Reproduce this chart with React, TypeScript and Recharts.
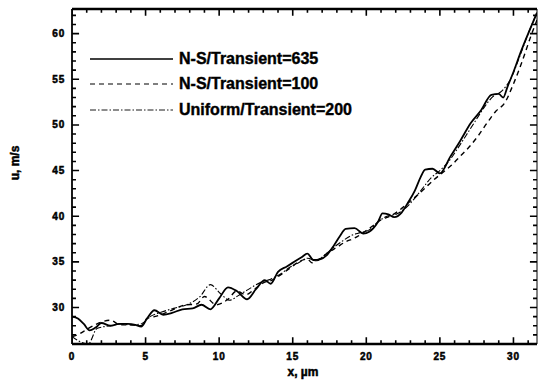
import { LineChart, Line, XAxis, YAxis, Legend } from 'recharts';

// x in µm, u in m/s for the three runs
const nsX635 = [0, 0.4, 0.8, 1.2, 1.6, 2.0, 2.6, 3.2, 3.8, 4.3, 4.7, 5.1, 5.6, 6.2, 6.8, 7.5, 8.2, 8.8, 9.4, 10.0, 10.6, 11.2, 11.9, 12.5, 13.1, 13.5, 14.0, 14.6, 15.1, 15.6, 16.0, 16.4, 16.9, 17.3, 17.8, 18.2, 18.6, 19.2, 19.8, 20.2, 20.8, 21.1, 21.5, 21.9, 22.4, 22.8, 23.3, 23.7, 24.0, 24.5, 25.0, 25.7, 26.4, 27.1, 27.8, 28.5, 29.0, 29.3, 29.6, 30.0, 30.5, 31.0, 31.6];
const nsU635 = [29.0, 28.8, 28.2, 27.5, 27.8, 28.3, 28.0, 28.2, 28.2, 28.1, 27.9, 28.8, 29.7, 29.2, 29.4, 29.8, 29.9, 30.3, 29.8, 31.0, 32.2, 31.8, 30.9, 32.0, 33.0, 32.6, 33.9, 34.5, 35.0, 35.5, 35.9, 35.2, 35.3, 35.7, 36.8, 37.8, 38.6, 38.7, 38.1, 38.3, 39.4, 40.3, 40.2, 39.9, 40.4, 41.4, 42.8, 44.3, 45.1, 45.2, 44.7, 46.5, 48.3, 50.2, 51.6, 53.3, 53.4, 53.0, 54.2, 55.8, 58.0, 60.0, 62.3];

const nsX100 = [0, 0.5, 1.0, 1.7, 2.6, 3.3, 4.0, 4.7, 5.1, 5.6, 6.2, 6.9, 7.6, 8.5, 9.0, 9.8, 10.6, 11.2, 11.8, 12.4, 13.0, 13.6, 14.2, 14.8, 15.4, 16.0, 16.3, 16.8, 17.4, 18.0, 18.6, 19.2, 19.8, 20.4, 21.0, 21.6, 22.2, 22.8, 23.4, 24.0, 24.6, 25.2, 25.8, 26.4, 27.0, 27.6, 28.2, 28.8, 29.4, 30.0, 30.6, 31.2, 31.6];
const nsU100 = [26.8, 27.1, 27.6, 28.2, 28.6, 28.1, 28.1, 28.0, 28.8, 29.0, 29.3, 29.8, 30.25, 30.4, 31.2, 30.3, 30.9, 31.8, 31.4, 32.0, 32.7, 33.0, 33.6, 34.3, 35.0, 35.3, 34.9, 35.3, 36.0, 36.6, 37.2, 37.6, 38.2, 38.9, 39.6, 40.0, 40.6, 41.4, 42.2, 43.1, 44.0, 44.8, 45.6, 46.6, 47.6, 48.8, 50.2, 51.5, 52.4, 54.5, 57.0, 59.8, 61.5];

const uniX200 = [0, 0.5, 1.1, 1.7, 2.6, 3.3, 4.0, 4.7, 5.3, 6.1, 6.9, 7.8, 8.7, 9.4, 10.1, 10.7, 11.3, 11.9, 12.9, 13.5, 14.2, 14.8, 15.4, 16.0, 16.6, 17.2, 17.8, 18.4, 19.0, 19.6, 20.2, 20.8, 21.4, 22.0, 22.6, 23.2, 23.8, 24.4, 25.0, 25.6, 26.2, 26.8, 27.4, 28.0, 28.6, 29.2, 29.8, 30.4, 31.0, 31.6];
const uniU200 = [26.8, 26.3, 26.0, 27.7, 28.0, 28.2, 28.1, 28.2, 29.0, 29.5, 29.9, 30.3, 31.2, 32.5, 31.5, 30.8, 31.3, 31.9, 32.8, 33.1, 33.7, 34.4, 34.9, 35.4, 35.1, 35.8, 36.6, 37.3, 37.9, 38.2, 38.5, 39.4, 40.0, 40.2, 40.8, 41.8, 43.0, 44.2, 45.0, 46.0, 47.4, 48.9, 50.4, 51.9, 53.1, 53.7, 55.0, 57.4, 60.0, 62.3];

const seriesNames = ['N-S/Transient=635', 'N-S/Transient=100', 'Uniform/Transient=200'];

const xTicks = Array.from({ length: 32 }, (_, i) => i);
const yTicks = Array.from({ length: 37 }, (_, i) => 26 + i);

const X_DOMAIN: [number, number] = [0, 31.6];
const Y_DOMAIN: [number, number] = [26, 62.7];

const toPoints = (xs: number[], us: number[]) => xs.map((x, i) => ({ x, u: us[i] }));

const styles = [
  { stroke: '#000', strokeWidth: 1.8, dash: undefined as string | undefined },
  { stroke: '#000', strokeWidth: 1.4, dash: '5 4' },
  { stroke: '#000', strokeWidth: 1.1, dash: '6 2 1.5 2' },
];

const font = '"Liberation Sans", Arial, sans-serif';

// heavy print-style labels: bold face plus a thin outline
const labelProps = {
  fontFamily: font,
  fontWeight: 700,
  fill: '#000',
  stroke: '#000',
  strokeWidth: 0.5,
};

// inward tick marks on all four sides, lengths in data units (major every 5)
const isMajor = (v: number) => v % 5 === 0;
const xLen = (v: number) => (isMajor(v) ? 0.75 : 0.42);
const yLen = (v: number) => (isMajor(v) ? 0.48 : 0.27);

type Pt = { x: number; u: number | null };
// each tick is a two-point stub followed by a null so the path breaks
const stubs = (pairs: [Pt, Pt][]) =>
  pairs.flatMap(([a, b]) => [a, b, { x: b.x, u: null }]);

const tickPaths: Pt[][] = [
  stubs(xTicks.map((v) => [{ x: v, u: Y_DOMAIN[0] }, { x: v, u: Y_DOMAIN[0] + xLen(v) }])),
  stubs(xTicks.map((v) => [{ x: v, u: Y_DOMAIN[1] }, { x: v, u: Y_DOMAIN[1] - xLen(v) }])),
  stubs(yTicks.map((v) => [{ x: X_DOMAIN[0], u: v }, { x: X_DOMAIN[0] + yLen(v), u: v }])),
  stubs(yTicks.map((v) => [{ x: X_DOMAIN[1], u: v }, { x: X_DOMAIN[1] - yLen(v), u: v }])),
];

const XTick = ({ x, y, payload }: any) =>
  isMajor(payload.value) ? (
    <text x={x} y={y + 16} textAnchor="middle" fontSize={10} letterSpacing={0.8} {...labelProps}>
      {payload.value}
    </text>
  ) : (
    <g />
  );

const YTick = ({ x, y, payload }: any) =>
  isMajor(payload.value) ? (
    <text x={x - 7} y={y + 3.5} textAnchor="end" fontSize={10} letterSpacing={0.8} {...labelProps}>
      {payload.value}
    </text>
  ) : (
    <g />
  );

const renderLegend = () => (
  <div style={{ fontFamily: font, fontWeight: 700, fontSize: 16, color: '#000', WebkitTextStroke: '0.4px #000' }}>
    {seriesNames.map((name, i) => (
      <div key={name} style={{ display: 'flex', alignItems: 'center', height: 25.5 }}>
        <svg width={83} height={4} style={{ marginRight: 6 }}>
          <line x1={0} x2={83} y1={2} y2={2} stroke="#000" strokeWidth={styles[i].strokeWidth - 0.2} strokeDasharray={styles[i].dash} />
        </svg>
        <span style={{ whiteSpace: 'nowrap' }}>{name}</span>
      </div>
    ))}
  </div>
);

export default function App() {
  const series = [
    toPoints(nsX635, nsU635),
    toPoints(nsX100, nsU100),
    toPoints(uniX200, uniU200),
  ];
  return (
    <div style={{ position: 'absolute', left: 0, top: 0, width: 538, height: 387, background: '#fff' }}>
      <LineChart width={538} height={387} margin={{ top: 8, right: 0, bottom: 13, left: 32 }}>
        <XAxis
          dataKey="x"
          type="number"
          domain={X_DOMAIN}
          ticks={xTicks}
          interval={0}
          allowDataOverflow
          height={30}
          tickSize={0}
          tickMargin={0}
          tickLine={false}
          axisLine={{ stroke: '#000', strokeWidth: 2.5 }}
          tick={<XTick />}
          label={{
            content: () => (
              <text x={303} y={376} textAnchor="middle" fontSize={12} {...labelProps}>
                x, µm
              </text>
            ),
          }}
        />
        <XAxis
          xAxisId="top"
          orientation="top"
          dataKey="x"
          type="number"
          domain={X_DOMAIN}
          allowDataOverflow
          height={1}
          tick={false}
          tickLine={false}
          axisLine={{ stroke: '#000', strokeWidth: 2.5 }}
        />
        <YAxis
          type="number"
          domain={Y_DOMAIN}
          ticks={yTicks}
          interval={0}
          allowDataOverflow
          width={40}
          tickSize={0}
          tickMargin={0}
          tickLine={false}
          axisLine={{ stroke: '#000', strokeWidth: 1.8 }}
          tick={<YTick />}
          label={{
            content: () => (
              <text x={19} y={163} transform="rotate(-90 19 163)" textAnchor="middle" fontSize={12} {...labelProps}>
                u, m/s
              </text>
            ),
          }}
        />
        <YAxis
          yAxisId="right"
          orientation="right"
          type="number"
          domain={Y_DOMAIN}
          allowDataOverflow
          width={1}
          tick={false}
          tickLine={false}
          axisLine={{ stroke: '#000', strokeWidth: 1 }}
        />
        <Legend
          verticalAlign="middle"
          align="center"
          layout="horizontal"
          content={renderLegend}
          wrapperStyle={{ position: 'absolute', left: 90, top: 46, width: 300 }}
        />
        {tickPaths.map((pts, i) => (
          <Line
            key={`ticks${i}`}
            data={pts}
            dataKey="u"
            type="linear"
            stroke="#000"
            strokeWidth={1.6}
            dot={false}
            activeDot={false}
            connectNulls={false}
            legendType="none"
            isAnimationActive={false}
          />
        ))}
        {series.map((pts, i) => (
          <Line
            key={seriesNames[i]}
            data={pts}
            dataKey="u"
            name={seriesNames[i]}
            type="monotone"
            stroke={styles[i].stroke}
            strokeWidth={styles[i].strokeWidth}
            strokeDasharray={styles[i].dash}
            dot={false}
            isAnimationActive={false}
          />
        ))}
      </LineChart>
    </div>
  );
}
